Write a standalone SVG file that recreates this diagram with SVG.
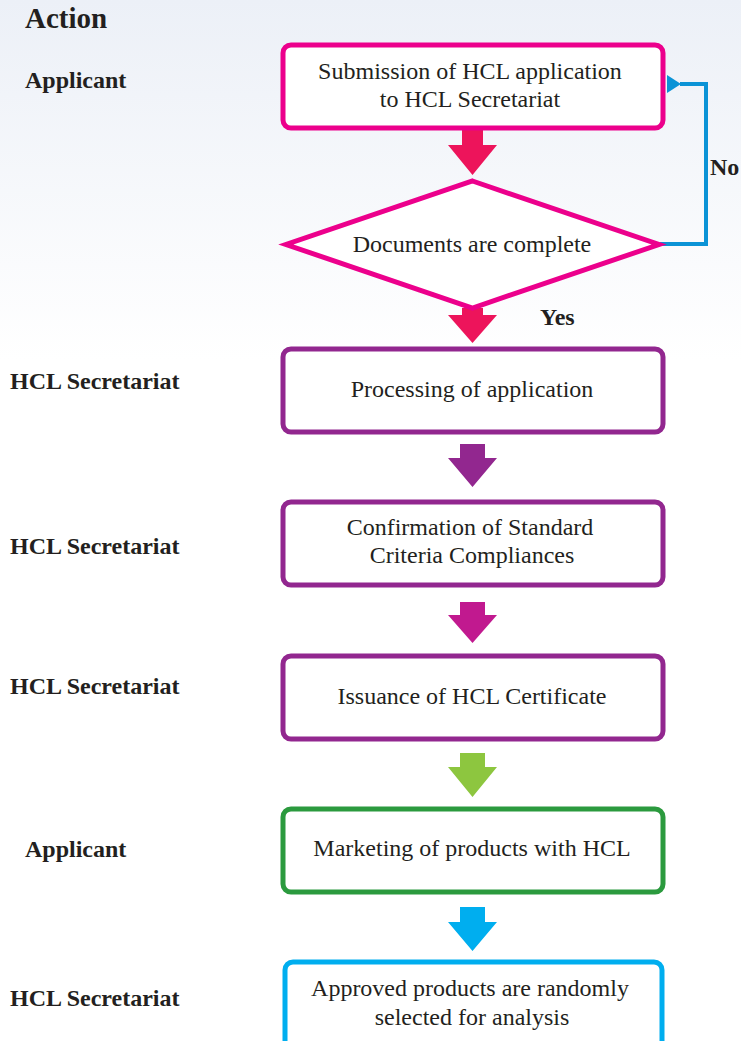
<svg xmlns="http://www.w3.org/2000/svg" width="741" height="1041" viewBox="0 0 741 1041">
<defs>
<linearGradient id="bg" x1="0" y1="0" x2="0" y2="1">
<stop offset="0" stop-color="#ecf0f7"/>
<stop offset="1" stop-color="#ffffff"/>
</linearGradient>
<marker id="ah" markerWidth="14" markerHeight="18" refX="1" refY="9" orient="auto" markerUnits="userSpaceOnUse">
<path d="M14,0 L0,9 L14,18 Z" fill="#0b93d6"/>
</marker>
</defs>
<style>
.box{fill:#fff;stroke-width:5}
.t{font-family:"Liberation Serif","Times New Roman",serif;font-size:24px;fill:#231f20;text-anchor:middle}
.l{font-family:"Liberation Serif","Times New Roman",serif;font-size:24px;font-weight:bold;fill:#231f20}
</style>
<rect x="0" y="0" width="741" height="360" fill="url(#bg)"/>
<rect x="0" y="360" width="741" height="681" fill="#fff"/>

<g id="labels">
<text class="l" x="25" y="28" style="font-size:29px">Action</text>
<text class="l" x="25" y="88">Applicant</text>
<text class="l" x="10" y="389">HCL Secretariat</text>
<text class="l" x="10" y="554">HCL Secretariat</text>
<text class="l" x="10" y="694">HCL Secretariat</text>
<text class="l" x="25" y="857">Applicant</text>
<text class="l" x="10" y="1006">HCL Secretariat</text>
</g>

<g id="connectors">
<path d="M462,128 H483 V145 H497 L472.5,175 L448,145 H462 Z" fill="#ed145b"/>
<path d="M462,308 H483 V315 H497 L472.5,343 L448,315 H462 Z" fill="#ed145b"/>
<path d="M460,444 H485 V458 H497 L472.5,487 L448,458 H460 Z" fill="#92278f"/>
<path d="M460,602 H485 V615 H497 L472.5,643 L448,615 H460 Z" fill="#c1198f"/>
<path d="M460,753 H485 V767 H497 L472.5,797 L448,767 H460 Z" fill="#8dc63f"/>
<path d="M460,907 H485 V922 H497 L472.5,951 L448,922 H460 Z" fill="#00aeef"/>
<path d="M660,244 H706 V84 H680" fill="none" stroke="#0b93d6" stroke-width="4" marker-end="url(#ah)"/>
<text class="l" x="710" y="175">No</text>
<text class="l" x="540" y="325">Yes</text>
</g>

<g id="n1">
<rect class="box" x="283" y="45" width="380" height="83" rx="8" stroke="#ec008c"/>
<text class="t" x="470" y="79">Submission of HCL application</text>
<text class="t" x="470" y="107">to HCL Secretariat</text>
</g>
<g id="n2">
<path d="M472.5,181 L659,244.5 L472.5,308 L286,244.5 Z" fill="#fff" stroke="#ec008c" stroke-width="5"/>
<text class="t" x="472" y="252">Documents are complete</text>
</g>
<g id="n3">
<rect class="box" x="283" y="349" width="380" height="83" rx="8" stroke="#92278f"/>
<text class="t" x="472" y="397">Processing of application</text>
</g>
<g id="n4">
<rect class="box" x="283" y="502" width="380" height="83" rx="8" stroke="#92278f"/>
<text class="t" x="470" y="535">Confirmation of Standard</text>
<text class="t" x="472" y="563">Criteria Compliances</text>
</g>
<g id="n5">
<rect class="box" x="283" y="656" width="380" height="83" rx="8" stroke="#92278f"/>
<text class="t" x="472" y="704">Issuance of HCL Certificate</text>
</g>
<g id="n6">
<rect class="box" x="283" y="809" width="380" height="83" rx="8" stroke="#2b9a3e"/>
<text class="t" x="472" y="856">Marketing of products with HCL</text>
</g>
<g id="n7">
<rect class="box" x="285" y="962" width="377" height="90" rx="8" stroke="#00aeef"/>
<text class="t" x="470" y="996">Approved products are randomly</text>
<text class="t" x="472" y="1025">selected for analysis</text>
</g>
</svg>
